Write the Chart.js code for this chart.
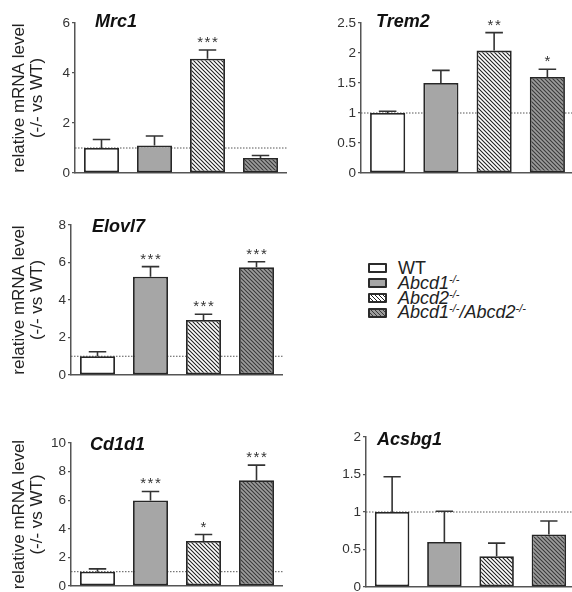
<!DOCTYPE html>
<html>
<head>
<meta charset="utf-8">
<script src="https://cdn.jsdelivr.net/npm/chart.js@4.4.1/dist/chart.umd.min.js"></script>
<style>
  html, body { margin: 0; padding: 0; background: #fff; width: 572px; height: 592px; overflow: hidden; }
  canvas.panel { position: absolute; }
  #legend { position: absolute; left: 368px; top: 261px; font-family: 'Liberation Sans', Arial, sans-serif; font-size: 18px; color: #222; }
  #legend .row { display: flex; align-items: center; height: 14.8px; white-space: nowrap; }
  #legend .sw { width: 15px; height: 6px; border: 2px solid #2b2b2b; border-radius: 1px; margin-right: 11px; flex: none; }
  #legend sup { font-size: 11px; vertical-align: 6px; line-height: 0; }
</style>
</head>
<body>

<canvas id="c-mrc1" class="panel"></canvas>
<canvas id="c-trem2" class="panel"></canvas>
<canvas id="c-elovl7" class="panel"></canvas>
<canvas id="c-cd1d1" class="panel"></canvas>
<canvas id="c-acsbg1" class="panel"></canvas>

<div id="legend">
  <div class="row"><span class="sw" style="background:#fff"></span>WT</div>
  <div class="row"><span class="sw" style="background:#a6a6a6"></span><i>Abcd1<sup>-/-</sup></i></div>
  <div class="row"><span class="sw" style="background:repeating-linear-gradient(45deg,#fff 0 1.6px,#222 1.6px 2.8px)"></span><i>Abcd2<sup>-/-</sup></i></div>
  <div class="row"><span class="sw" style="background:repeating-linear-gradient(45deg,#9c9c9c 0 1.6px,#3a3a3a 1.6px 2.8px)"></span><i>Abcd1<sup>-/-</sup>/Abcd2<sup>-/-</sup></i></div>
</div>

<script>
// groups (same order in every panel)
const groups = ['WT', 'Abcd1-/-', 'Abcd2-/-', 'Abcd1-/-/Abcd2-/-'];

// mean fold change and SEM (upper whisker) per gene
const mrc1Mean   = [1.0, 1.1, 4.57, 0.6];
const mrc1Sem    = [0.34, 0.38, 0.35, 0.1];
const mrc1Stars  = ['', '', '***', ''];
const mrc1Ticks  = [0, 2, 4, 6];

const trem2Mean  = [1.0, 1.5, 2.04, 1.6];
const trem2Sem   = [0.03, 0.21, 0.3, 0.13];
const trem2Stars = ['', '', '**', '*'];
const trem2Ticks = [0, 0.5, 1, 1.5, 2, 2.5];

const elovl7Mean  = [1.0, 5.24, 2.93, 5.75];
const elovl7Sem   = [0.24, 0.54, 0.31, 0.29];
const elovl7Stars = ['', '***', '***', '***'];
const elovl7Ticks = [0, 2, 4, 6, 8];

const cd1d1Mean  = [1.0, 5.98, 3.15, 7.4];
const cd1d1Sem   = [0.2, 0.63, 0.45, 1.05];
const cd1d1Stars = ['', '***', '*', '***'];
const cd1d1Ticks = [0, 2, 4, 6, 8, 10];

const acsbg1Mean  = [1.0, 0.6, 0.41, 0.7];
const acsbg1Sem   = [0.47, 0.41, 0.175, 0.18];
const acsbg1Stars = ['', '', '', ''];
const acsbg1Ticks = [0, 0.5, 1, 1.5, 2];

const FONT = "'Liberation Sans', Arial, sans-serif";
const PAD  = 12;

// diagonal hatch fill
function hatch(bg, fg) {
  const c = document.createElement('canvas');
  c.width = 4; c.height = 4;
  const g = c.getContext('2d');
  g.fillStyle = bg;
  g.fillRect(0, 0, 4, 4);
  g.strokeStyle = fg;
  g.lineWidth = 1.1;
  g.beginPath();
  g.moveTo(-1, -1); g.lineTo(5, 5);
  g.moveTo(3, -1);  g.lineTo(5, 1);
  g.moveTo(-1, 3);  g.lineTo(1, 5);
  g.stroke();
  return g.createPattern(c, 'repeat');
}

const fills = ['#ffffff', '#a6a6a6', hatch('#ffffff', '#222'), hatch('#9c9c9c', '#3a3a3a')];

// dotted line at 1, error whiskers, stars, gene name
const barExtras = {
  id: 'barExtras',
  beforeDatasetsDraw(chart) {
    const { ctx, chartArea: a, scales: { y } } = chart;
    const yy = y.getPixelForValue(1);
    ctx.save();
    ctx.strokeStyle = '#555';
    ctx.lineWidth = 1;
    ctx.setLineDash([1.5, 1.5]);
    ctx.beginPath();
    ctx.moveTo(a.left, yy);
    ctx.lineTo(a.right, yy);
    ctx.stroke();
    ctx.restore();
  },
  afterDatasetsDraw(chart, args, opts) {
    const { ctx, chartArea: a, scales: { y } } = chart;
    const vals = chart.data.datasets[0].data;
    ctx.save();
    chart.getDatasetMeta(0).data.forEach((bar, i) => {
      const top  = y.getPixelForValue(vals[i] + opts.sem[i]);
      const half = bar.width / 4;
      ctx.strokeStyle = '#333';
      ctx.lineWidth = 1.6;
      ctx.beginPath();
      ctx.moveTo(bar.x, bar.y);
      ctx.lineTo(bar.x, top);
      ctx.moveTo(bar.x - half, top);
      ctx.lineTo(bar.x + half, top);
      ctx.stroke();
      if (opts.stars[i]) {
        ctx.fillStyle = '#333';
        ctx.font = '15px ' + FONT;
        ctx.letterSpacing = '1.5px';
        ctx.textAlign = 'center';
        ctx.fillText(opts.stars[i], bar.x + 0.75, top - 3);
        ctx.letterSpacing = '0px';
      }
    });
    ctx.fillStyle = '#111';
    ctx.font = 'italic bold 18px ' + FONT;
    ctx.textAlign = 'left';
    ctx.fillText(opts.title, a.left + opts.dx, a.top + opts.dy);
    ctx.restore();
  }
};

function makeChart(id, box, gene, means, sem, stars, ticks, withTitle) {
  const cv = document.getElementById(id);
  const x0 = box.left - box.axisW;
  const y0 = box.top - PAD;
  cv.width  = box.right - x0;
  cv.height = box.bottom + PAD - y0;
  cv.style.left = x0 + 'px';
  cv.style.top  = y0 + 'px';

  return new Chart(cv, {
    type: 'bar',
    data: {
      labels: groups,
      datasets: [{
        data: means,
        backgroundColor: fills,
        borderColor: '#262626',
        borderWidth: 1.8,
        borderSkipped: false,
        barPercentage: 0.66,
        categoryPercentage: 1
      }]
    },
    options: {
      responsive: false,
      animation: false,
      layout: { padding: { top: PAD, bottom: PAD, left: 0, right: 0 } },
      plugins: {
        legend: { display: false },
        tooltip: { enabled: false },
        barExtras: { sem, stars, title: gene.name, dx: gene.dx, dy: gene.dy }
      },
      scales: {
        x: {
          grid: { display: false, drawTicks: false },
          border: { display: true, color: '#555', width: 1.5 },
          ticks: { display: false },
          afterFit: s => { s.height = 0; }
        },
        y: {
          min: ticks[0],
          max: ticks[ticks.length - 1],
          afterBuildTicks: s => { s.ticks = ticks.map(v => ({ value: v })); },
          afterFit: s => { s.width = box.axisW; },
          grid: { drawOnChartArea: false, tickLength: 3, color: '#555', lineWidth: 1.2 },
          border: { display: true, color: '#555', width: 1.5 },
          ticks: { padding: 2, color: '#333', font: { family: FONT, size: 13.5 }, callback: v => String(v) },
          title: {
            display: withTitle,
            text: ['relative mRNA level', '(-/- vs WT)'],
            color: '#222',
            font: { family: FONT, size: 17, lineHeight: 1.08 },
            padding: { top: 10, bottom: 0 }
          }
        }
      }
    },
    plugins: [barExtras]
  });
}

makeChart('c-mrc1',   { left: 75,  top: 23,  right: 287, bottom: 173, axisW: 75 },
  { name: 'Mrc1', dx: 20, dy: 4 }, mrc1Mean, mrc1Sem, mrc1Stars, mrc1Ticks, true);
makeChart('c-trem2',  { left: 361, top: 23,  right: 574, bottom: 173, axisW: 40 },
  { name: 'Trem2', dx: 15, dy: 4 }, trem2Mean, trem2Sem, trem2Stars, trem2Ticks, false);
makeChart('c-elovl7', { left: 71,  top: 225, right: 283, bottom: 375, axisW: 71 },
  { name: 'Elovl7', dx: 21, dy: 7 }, elovl7Mean, elovl7Sem, elovl7Stars, elovl7Ticks, true);
makeChart('c-cd1d1',  { left: 71,  top: 443, right: 283, bottom: 586, axisW: 71 },
  { name: 'Cd1d1', dx: 19, dy: 7 }, cd1d1Mean, cd1d1Sem, cd1d1Stars, cd1d1Ticks, true);
makeChart('c-acsbg1', { left: 366, top: 437, right: 575, bottom: 587, axisW: 40 },
  { name: 'Acsbg1', dx: 11, dy: 8 }, acsbg1Mean, acsbg1Sem, acsbg1Stars, acsbg1Ticks, false);
</script>
</body>
</html>
